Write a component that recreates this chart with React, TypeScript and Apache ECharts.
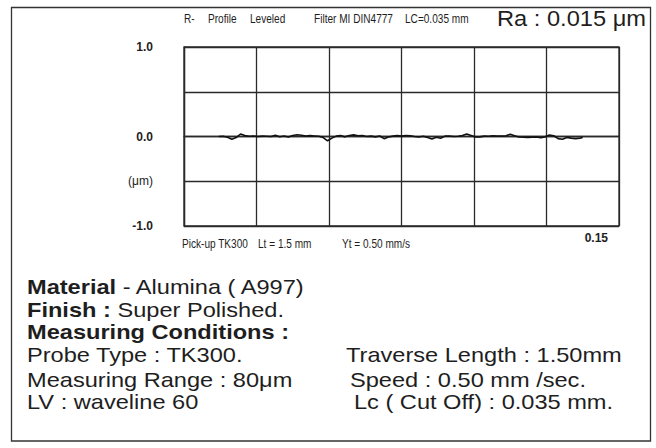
import React, { useEffect, useRef } from 'react';
import * as echarts from 'echarts';

// ---- data ----
const profileX = [
  0.012, 0.0135, 0.015, 0.0165, 0.018, 0.0195, 0.021, 0.0225, 0.024, 0.0255,
  0.027, 0.0285, 0.03, 0.0315, 0.033, 0.0345, 0.036, 0.0375, 0.039, 0.0405,
  0.042, 0.0435, 0.045, 0.0465, 0.048, 0.0495, 0.051, 0.0525, 0.054, 0.0555,
  0.057, 0.0585, 0.06, 0.0615, 0.063, 0.0645, 0.066, 0.0675, 0.069, 0.0705,
  0.072, 0.0735, 0.075, 0.0765, 0.078, 0.0795, 0.081, 0.0825, 0.084, 0.0855,
  0.087, 0.0885, 0.09, 0.0915, 0.093, 0.0945, 0.096, 0.0975, 0.099, 0.1005,
  0.102, 0.1035, 0.105, 0.1065, 0.108, 0.1095, 0.111, 0.1125, 0.114, 0.1155,
  0.117, 0.1185, 0.12, 0.1215, 0.123, 0.1245, 0.126, 0.1275, 0.129, 0.1305,
  0.132, 0.1335, 0.135, 0.1365, 0.1375,
];
const profileY = [
  0.0, 0.003, -0.008, -0.03, -0.012, 0.028, 0.01, 0.002, 0.006, 0.0,
  0.004, 0.002, 0.0, 0.014, -0.002, 0.006, -0.006, 0.012, 0.02, 0.014,
  0.004, 0.01, 0.006, 0.002, -0.012, -0.048, -0.018, 0.004, 0.01, -0.004,
  0.012, 0.018, 0.008, 0.012, 0.0, 0.004, -0.004, 0.006, -0.024, -0.006,
  0.004, 0.01, 0.004, 0.012, 0.008, 0.0, -0.006, 0.002, -0.01, -0.028,
  -0.008, -0.02, 0.004, 0.006, 0.0, 0.002, 0.01, 0.028, 0.012, -0.006,
  -0.004, 0.004, 0.002, 0.008, 0.006, 0.004, 0.008, 0.024, 0.008, -0.006,
  -0.008, -0.01, -0.008, -0.006, -0.014, -0.004, 0.016, 0.008, -0.024, -0.03,
  -0.01, -0.018, -0.024, -0.018, -0.012,
];
const yTickValues = [-1, -0.5, 0, 0.5, 1];
const yTickLabels = ['-1.0', '(μm)', '0.0', '', '1.0'];
const xMin = 0;
const xMax = 0.15;
const xInterval = 0.025;
const xEndLabel = '0.15';

const headerItems = ['R-', 'Profile', 'Leveled', 'Filter MI DIN4777', 'LC=0.035 mm'];
const raText = 'Ra : 0.015 μm';
const footerItems = ['Pick-up TK300', 'Lt = 1.5 mm', 'Yt = 0.50 mm/s'];
const infoLeft = [
  '{b|Material} - Alumina ( A997)',
  '{b|Finish :} Super Polished.',
  '{b|Measuring Conditions :}',
  'Probe Type : TK300.',
  'Measuring Range : 80μm',
  'LV : waveline 60',
];
const infoRight = [
  'Traverse Length : 1.50mm',
  'Speed : 0.50 mm /sec.',
  'Lc ( Cut Off) : 0.035 mm.',
];

// ---- layout ----
const FONT = "'Liberation Sans', Arial, sans-serif";
const INK = '#1e1e1e';
const LINE = '#2a2a2a';
const headerX = [184, 208, 250, 314, 405];
const footerX = [182, 258, 342];
const infoLeftY = [287, 310, 332, 355, 380, 402];
const infoRightX = [346, 350, 354];

export default function App() {
  const ref = useRef<HTMLDivElement>(null);
  useEffect(() => {
    if (!ref.current) return;
    const chart = echarts.init(ref.current, null, { renderer: 'svg' });

    const smallText = (text: string, x: number, y: number) => ({
      type: 'text',
      x,
      y,
      scaleX: 0.84,
      style: { text, fontSize: 12, fontFamily: FONT, fill: INK, align: 'left', verticalAlign: 'middle' },
    });
    const bigText = (text: string, x: number, y: number) => ({
      type: 'text',
      x,
      y,
      scaleX: 1.18,
      style: {
        text,
        fontSize: 20,
        fontFamily: FONT,
        fill: INK,
        align: 'left',
        verticalAlign: 'middle',
        rich: {
          b: { fontSize: 20, fontFamily: FONT, fontWeight: 'bold', fill: INK },
        },
      },
    });

    const graphics: any[] = [
      {
        type: 'rect',
        shape: { x: 11.5, y: 7.5, width: 639, height: 433.5 },
        style: { fill: 'none', stroke: '#333', lineWidth: 1.3 },
      },
      ...headerItems.map((t, i) => smallText(t, headerX[i], 19)),
      ...footerItems.map((t, i) => smallText(t, footerX[i], 244)),
      {
        type: 'text',
        x: 497,
        y: 19,
        scaleX: 1.1,
        style: { text: raText, fontSize: 21.5, fontFamily: FONT, fill: INK, align: 'left', verticalAlign: 'middle' },
      },
      ...infoLeft.map((t, i) => bigText(t, 27, infoLeftY[i])),
      ...infoRight.map((t, i) => bigText(t, infoRightX[i], infoLeftY[3 + i])),
    ];

    chart.setOption({
      animation: false,
      backgroundColor: '#fff',
      grid: {
        left: 184,
        top: 47,
        width: 435,
        height: 179,
        show: true,
        borderColor: LINE,
        borderWidth: 1.3,
        backgroundColor: 'transparent',
      },
      xAxis: {
        type: 'value',
        min: xMin,
        max: xMax,
        interval: xInterval,
        axisLine: { show: true, lineStyle: { color: LINE, width: 1.3 } },
        axisTick: { show: false },
        splitLine: { show: true, lineStyle: { color: LINE, width: 1.3 } },
        axisLabel: {
          show: true,
          showMaxLabel: true,
          showMinLabel: false,
          align: 'right',
          margin: 6,
          formatter: (v: number) => (Math.abs(v - xMax) < 1e-9 ? '{a|' + xEndLabel + '}' : ''),
          rich: {
            a: { padding: [0, 11, 0, 0], fontSize: 12, fontWeight: 'bold', fontFamily: FONT, color: INK },
          },
        },
      },
      yAxis: {
        type: 'value',
        min: -1,
        max: 1,
        interval: 0.5,
        axisLine: { show: true, lineStyle: { color: LINE, width: 1.3 } },
        axisTick: { show: false },
        splitLine: { show: true, lineStyle: { color: LINE, width: 1.3 } },
        axisLabel: {
          margin: 31,
          showMinLabel: true,
          showMaxLabel: true,
          formatter: (v: number) => {
            const idx = yTickValues.findIndex((t) => Math.abs(t - v) < 1e-9);
            const label = idx >= 0 ? yTickLabels[idx] : '';
            if (!label) return '';
            return label.startsWith('(') ? '{u|' + label + '}' : '{n|' + label + '}';
          },
          rich: {
            n: { fontSize: 12, fontWeight: 'bold', fontFamily: FONT, color: INK },
            u: { fontSize: 12, fontFamily: FONT, color: INK },
          },
        },
      },
      series: [
        {
          type: 'line',
          data: profileX.map((x, i) => [x, profileY[i]]),
          showSymbol: false,
          symbol: 'none',
          lineStyle: { color: '#111', width: 1.6 },
          z: 5,
        },
      ],
      graphic: graphics,
    });

    return () => chart.dispose();
  }, []);

  return (
    <div
      ref={ref}
      style={{ position: 'absolute', left: 0, top: 0, width: 656, height: 448, background: '#fff' }}
    />
  );
}
